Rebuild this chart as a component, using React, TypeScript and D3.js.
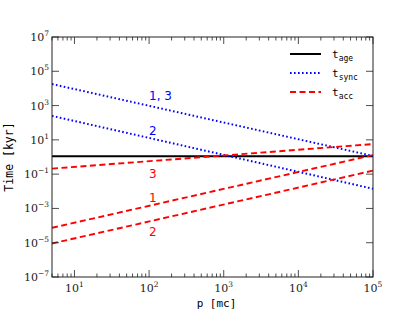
import React from "react";
import * as d3 from "d3";

// momentum endpoints (p in mc) and timescales (kyr)
const pEnds = [5, 1e5];
const tAge = [1.1, 1.1];
const tSync13 = [1.8e4, 1.15];
const tSync2 = [250, 0.014];
const tAcc1 = [7.4e-5, 1.3];
const tAcc2 = [9e-6, 0.16];
const tAcc3 = [0.21, 5.7];

const xTickExps = [1, 2, 3, 4, 5];
const yTickExps = [7, 5, 3, 1, -1, -3, -5, -7];

// curve annotations: [p, t, text]
const blueLabels: [number, number, string][] = [
  [100, 2e3, "1, 3"],
  [100, 19, "2"],
];
const redLabels: [number, number, string][] = [
  [100, 0.059, "3"],
  [100, 2.3e-3, "1"],
  [100, 2.4e-5, "2"],
];

const legendItems = [
  { sub: "age", color: "#000", dash: "none" },
  { sub: "sync", color: "#0000ff", dash: "1.6,2.4" },
  { sub: "acc", color: "#ff0000", dash: "6,3.5" },
];

const W = 415;
const H = 311;
const margin = { top: 37, right: 42, bottom: 34, left: 52 };

export default function App() {
  const w = W - margin.left - margin.right;
  const h = H - margin.top - margin.bottom;

  const x = d3.scaleLog().domain([5, 1e5]).range([0, w]);
  const y = d3.scaleLog().domain([1e-7, 1e7]).range([h, 0]);

  const line = d3
    .line<number>()
    .x((d, i) => x(pEnds[i]))
    .y((d) => y(d));

  const minor: number[] = [];
  for (let e = 0; e <= 4; e++) {
    for (let m = 2; m <= 9; m++) {
      const v = m * Math.pow(10, e);
      if (v >= 5 && v <= 1e5) minor.push(v);
    }
  }

  const serif = "'DejaVu Serif', 'Liberation Serif', serif";
  const mono = "'DejaVu Sans Mono', 'Liberation Mono', monospace";
  const sans = "'DejaVu Sans', sans-serif";
  const frame = "#222";

  const series = [
    { d: tAge, color: "#000", dash: "none" },
    { d: tSync13, color: "#0000ff", dash: "1.6,2.4" },
    { d: tSync2, color: "#0000ff", dash: "1.6,2.4" },
    { d: tAcc1, color: "#ff0000", dash: "6,3.5" },
    { d: tAcc2, color: "#ff0000", dash: "6,3.5" },
    { d: tAcc3, color: "#ff0000", dash: "6,3.5" },
  ];

  return (
    <svg
      width={W}
      height={H}
      style={{ position: "absolute", left: 0, top: 0, background: "#fff" }}
    >
      <g transform={`translate(${margin.left},${margin.top})`}>
        <defs>
          <clipPath id="plot">
            <rect x={0} y={0} width={w} height={h} />
          </clipPath>
        </defs>

        <g clipPath="url(#plot)">
          {series.map((s, i) => (
            <path
              key={i}
              d={line(s.d) || ""}
              fill="none"
              stroke={s.color}
              strokeWidth={s.dash === "1.6,2.4" ? 2 : 1.9}
              strokeDasharray={s.dash}
            />
          ))}
        </g>

        {/* ticks */}
        {minor.map((v) => (
          <g key={"m" + v} stroke={frame} strokeWidth={0.8}>
            <line x1={x(v)} x2={x(v)} y1={h} y2={h - 3.5} />
            <line x1={x(v)} x2={x(v)} y1={0} y2={3.5} />
          </g>
        ))}
        {xTickExps.map((e) => (
          <g key={"x" + e}>
            <line x1={x(10 ** e)} x2={x(10 ** e)} y1={h} y2={h - 7} stroke={frame} strokeWidth={0.8} />
            <line x1={x(10 ** e)} x2={x(10 ** e)} y1={0} y2={7} stroke={frame} strokeWidth={0.8} />
            <text
              x={x(10 ** e)}
              y={h + 15}
              textAnchor="middle"
              fontFamily={serif}
              fontSize={11}
              fill="#222"
            >
              10
              <tspan dy={-5} fontSize={7.5}>
                {e}
              </tspan>
            </text>
          </g>
        ))}
        {yTickExps.map((e) => (
          <g key={"y" + e}>
            <line x1={0} x2={7} y1={y(10 ** e)} y2={y(10 ** e)} stroke={frame} strokeWidth={0.8} />
            <line x1={w} x2={w - 7} y1={y(10 ** e)} y2={y(10 ** e)} stroke={frame} strokeWidth={0.8} />
            <text
              x={-3}
              y={y(10 ** e) + 4}
              textAnchor="end"
              fontFamily={serif}
              fontSize={11}
              fill="#222"
            >
              10
              <tspan dy={-5} fontSize={7.5}>
                {e < 0 ? "\u2212" + -e : e}
              </tspan>
            </text>
          </g>
        ))}

        <rect x={0} y={0} width={w} height={h} fill="none" stroke={frame} strokeWidth={1} />

        {blueLabels.map(([p, t, s]) => (
          <text key={"b" + s} x={x(p)} y={y(t)} fontFamily={sans} fontSize={12} fill="#0000ff">
            {s}
          </text>
        ))}
        {redLabels.map(([p, t, s]) => (
          <text key={"r" + s} x={x(p)} y={y(t)} fontFamily={sans} fontSize={12} fill="#ff0000">
            {s}
          </text>
        ))}

        {/* legend */}
        {legendItems.map((it, i) => (
          <g key={it.sub} transform={`translate(${238},${17 + i * 19})`}>
            <line
              x1={0}
              x2={31}
              y1={0}
              y2={0}
              stroke={it.color}
              strokeWidth={2}
              strokeDasharray={it.dash}
            />
            <text x={42} y={4} fontFamily={mono} fontSize={11} fill="#000">
              t
              <tspan dy={3} fontSize={8}>
                {it.sub}
              </tspan>
            </text>
          </g>
        ))}

        <text
          x={w / 2 + 4}
          y={h + 30}
          textAnchor="middle"
          fontFamily={mono}
          fontSize={11}
          fill="#000"
        >
          p [mc]
        </text>
        <text
          transform={`translate(${-39},${h / 2}) rotate(-90)`}
          textAnchor="middle"
          fontFamily={mono}
          fontSize={11.5}
          fill="#000"
        >
          Time [kyr]
        </text>
      </g>
    </svg>
  );
}
